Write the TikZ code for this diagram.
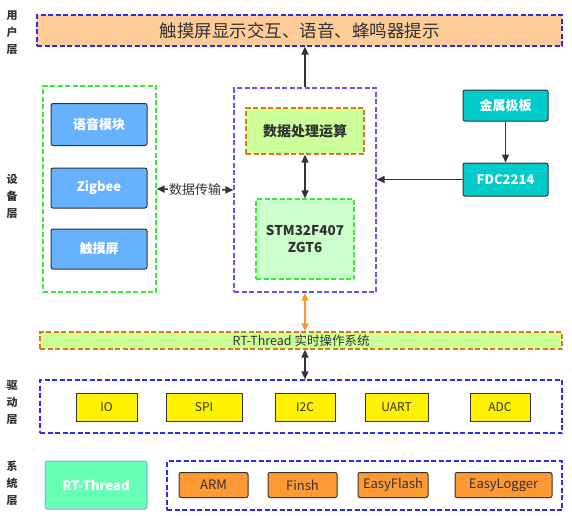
\documentclass[tikz,border=0pt]{standalone}
\usepackage{fontspec}
\setmainfont{Noto Sans CJK SC}
\usetikzlibrary{arrows.meta}

\definecolor{peach}{HTML}{FFCC99}
\definecolor{lineblue}{HTML}{2A2AF0}
\definecolor{midblue}{HTML}{5A5AF5}
\definecolor{grnline}{HTML}{33EE33}
\definecolor{skyfill}{HTML}{66B2FF}
\definecolor{limefill}{HTML}{CCFF99}
\definecolor{mintfill}{HTML}{CCFFCC}
\definecolor{tealfill}{HTML}{00CCCC}
\definecolor{orgline}{HTML}{DD7711}
\definecolor{orgfill}{HTML}{FF9933}
\definecolor{rtfill}{HTML}{66FFB3}
\definecolor{rtline}{HTML}{A0A0FF}
\definecolor{darkline}{HTML}{333333}
\definecolor{txtgray}{HTML}{333333}

\begin{document}
\begin{tikzpicture}[x=1pt, y=-1pt,
    dashline/.style={dash pattern=on 5pt off 2.5pt, line width=1.2pt},
    layer/.style={draw=lineblue, dashline},
    solidbox/.style={draw=darkline, line width=1pt, rounded corners=2pt},
    modbox/.style={solidbox, fill=skyfill, text=white, font=\fontsize{13}{15}\selectfont\bfseries,
        minimum width=96pt},
    platebox/.style={solidbox, fill=tealfill, text=white, font=\fontsize{13}{15}\selectfont\bfseries,
        minimum width=85pt},
    drvbox/.style={draw=darkline, line width=1pt, fill=yellow, text=txtgray,
        font=\fontsize{12}{14}\selectfont, minimum height=28pt},
    sysbox/.style={solidbox, fill=orgfill, text=txtgray, font=\fontsize{13}{15}\selectfont,
        minimum height=25pt},
    layername/.style={align=center, text=txtgray, font=\fontsize{11}{17}\selectfont\bfseries},
    conn/.style={draw=darkline, line width=1.3pt, -{Triangle[length=8pt,width=7pt]}},
    biconn/.style={conn, {Triangle[length=8pt,width=7pt]}-{Triangle[length=8pt,width=7pt]}}
]
    \useasboundingbox (0,0) rectangle (572,515);

    % ==========================================
    % LAYER NAMES
    % ==========================================
    \node[layername] (lyuser) at (12,33) {用\\户\\层};
    \node[layername] (lydev)  at (12,196) {设\\备\\层};
    \node[layername] (lydrv)  at (12,403) {驱\\动\\层};
    \node[layername] (lysys)  at (12,483) {系\\统\\层};

    % ==========================================
    % USER LAYER
    % ==========================================
    \node[layer, fill=peach, text=txtgray, minimum width=525pt, minimum height=31pt,
        font=\fontsize{17.5}{20}\selectfont] (user) at (299.5,30.5) {触摸屏显示交互、语音、蜂鸣器提示};

    % ==========================================
    % DEVICE LAYER
    % ==========================================

    % Peripherals on the left
    \node[draw=grnline, dashline, minimum width=113pt, minimum height=206pt] (grp) at (99.5,189) {};
    \node[modbox, minimum height=42pt] (voice) at (99,124.5) {语音模块};
    \node[modbox, minimum height=40pt] (zigbee) at (99,188) {Zigbee};
    \node[modbox, minimum height=40pt] (touch) at (99,249) {触摸屏};

    % Controller in the middle
    \node[draw=midblue, dashline, minimum width=142pt, minimum height=204pt] (mid) at (305,190) {};
    \node[draw=orgline, dashline, fill=limefill, minimum width=118pt, minimum height=46pt,
        text=txtgray, font=\fontsize{14}{16}\selectfont\bfseries] (calc) at (305,131) {数据处理运算};
    \node[draw=grnline, dashline, fill=mintfill, minimum width=98pt, minimum height=80pt,
        align=center, text=txtgray, font=\fontsize{13.5}{17}\selectfont\bfseries] (mcu) at (305,239) {STM32F407\\ZGT6};

    % Sensor on the right
    \node[platebox, minimum height=31pt] (plate) at (505.5,105.5) {金属极板};
    \node[platebox, minimum height=33pt] (fdc) at (505.5,179.5) {FDC2214};

    % Connections
    \draw[conn] (mid.north) -- (mid.north |- user.south);
    \draw[biconn] (grp.east) -- node[fill=white, inner sep=1pt, text=txtgray,
        font=\fontsize{13}{15}\selectfont] (xfer) {数据传输} (mid.west);
    \draw[biconn] (calc.south) -- (mcu.north);
    \draw[conn] (plate.south) -- (fdc.north);
    \draw[conn] (fdc.west) -- (fdc.west -| mid.east);

    % ==========================================
    % RTOS BAR
    % ==========================================
    \node[draw=orgline, dashline, fill=limefill, minimum width=522pt, minimum height=17pt,
        inner sep=0pt, text=txtgray, font=\fontsize{12.5}{14}\selectfont] (rtos) at (301,340.5) {RT-Thread 实时操作系统};

    % ==========================================
    % DRIVER LAYER
    % ==========================================
    \node[layer, minimum width=522pt, minimum height=53pt] (drv) at (301,406.5) {};
    \node[drvbox, minimum width=61pt] (io)   at (106.5,407) {IO};
    \node[drvbox, minimum width=76pt] (spi)  at (204,407) {SPI};
    \node[drvbox, minimum width=60pt] (iic)  at (305,407) {I2C};
    \node[drvbox, minimum width=63pt] (uart) at (396.5,407) {UART};
    \node[drvbox, minimum width=60pt] (adc)  at (500,407) {ADC};

    \draw[biconn, draw=orgfill, line width=1.2pt] (mid.south) -- (mid.south |- rtos.north);
    \draw[biconn] (rtos.south -| mid.south) -- (drv.north -| mid.south);

    % ==========================================
    % SYSTEM LAYER
    % ==========================================
    \node[draw=rtline, line width=1pt, rounded corners=2pt, fill=rtfill, minimum width=102pt, minimum height=48pt,
        text=white, font=\fontsize{13}{15}\selectfont\bfseries] (rtt) at (96,485) {RT-Thread};
    \node[layer, minimum width=395pt, minimum height=49pt] (libs) at (364.5,485.5) {};
    \node[sysbox, minimum width=69pt] (arm)   at (213.5,485) {ARM};
    \node[sysbox, minimum width=69pt] (finsh) at (302.5,485) {Finsh};
    \node[sysbox, minimum width=70pt] (eflash) at (393,485) {EasyFlash};
    \node[sysbox, minimum width=97pt] (elog)  at (503.5,485) {EasyLogger};

\end{tikzpicture}
\end{document}
